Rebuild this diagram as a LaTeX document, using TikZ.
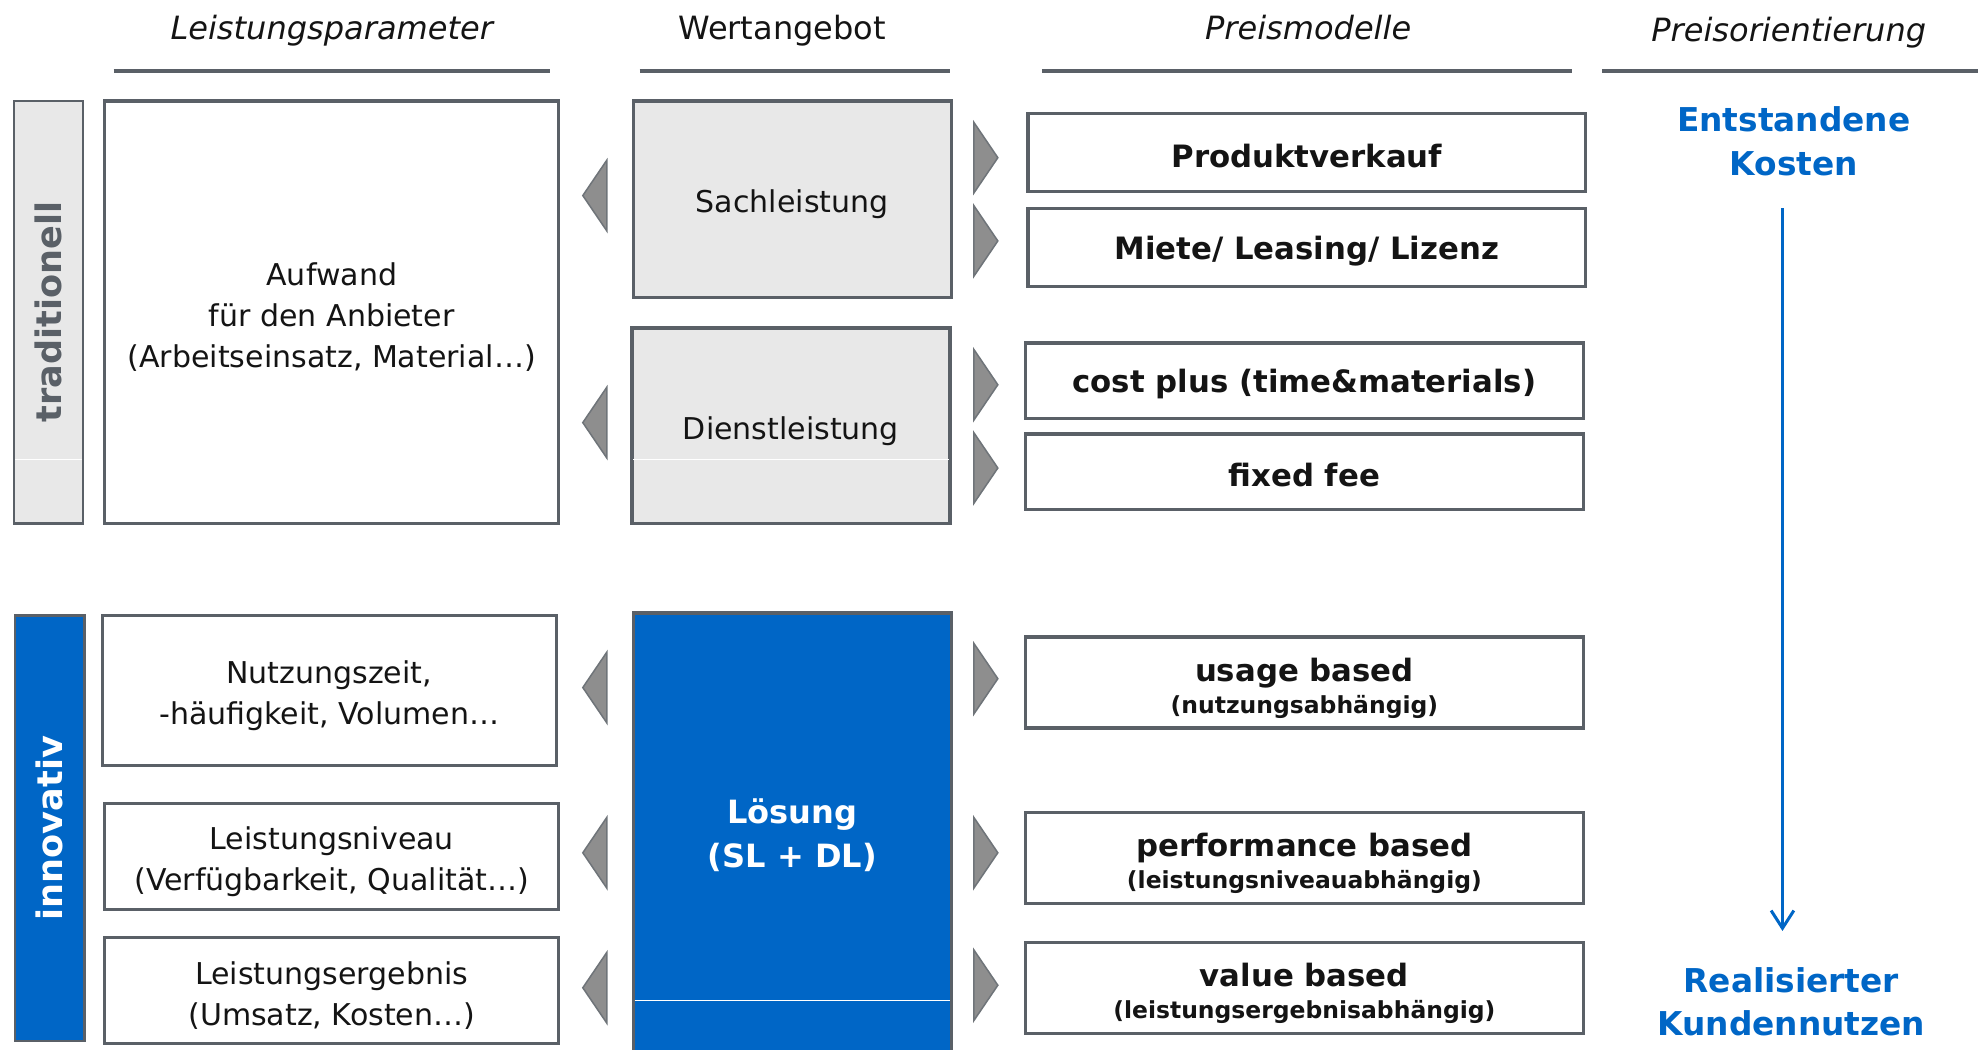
\documentclass[tikz,border=0pt]{standalone}
\usepackage{fontspec}
\setmainfont{DejaVu Sans}
\usetikzlibrary{arrows.meta}

\definecolor{frame}{HTML}{5A6067}
\definecolor{paleFill}{HTML}{E8E8E8}
\definecolor{corpBlue}{HTML}{0066C6}
\definecolor{wedgeFill}{HTML}{8E8E8E}
\definecolor{wedgeEdge}{HTML}{6F7479}
\definecolor{inkText}{HTML}{141414}

% invisible struts that raise a first line's height, so the text sits a little lower
\newcommand\liftA{\rule{0pt}{13pt}}
\newcommand\liftB{\rule{0pt}{13.8pt}}
\newcommand\liftC{\rule{0pt}{11.2pt}}

\begin{document}
\begin{tikzpicture}[x=0.5pt,y=-0.5pt,
  box/.style={draw=frame, line width=1.3pt, fill=white, inner sep=0pt,
    align=center, text=inkText, font=\fontsize{11.9}{16.25}\selectfont},
  greybox/.style={box, fill=paleFill},
  pricebox/.style={box, font=\bfseries\fontsize{12.2}{14}\selectfont},
  sidebar/.style={draw=frame, line width=0.9pt, inner sep=0pt,
    minimum width=27.5pt},
  sidelabel/.style={rotate=90, font=\bfseries\fontsize{13.9}{16}\selectfont},
  colhead/.style={anchor=base, text=inkText, font=\fontsize{12.7}{15}\selectfont},
  headrule/.style={draw=frame, line width=1.6pt},
  wedge/.style={fill=wedgeFill, draw=wedgeEdge, line width=0.6pt, line join=miter},
  bluelabel/.style={text=corpBlue, align=center,
    font=\bfseries\fontsize{13}{17.25}\selectfont},
  seam/.style={draw=white, line width=0.5pt}
]
\useasboundingbox (0,0) rectangle (1568,832);

% column headings and their rules
\node[colhead] (hLeist) at (263,31.5) {\itshape Leistungsparameter};
\node[colhead] (hWert)  at (620,31.5) {Wertangebot};
\node[colhead] (hPreis) at (1037,31.5) {\itshape Preismodelle};
\node[colhead] (hOrient) at (1418,33) {\itshape Preisorientierung};
\draw[headrule] (90,56) -- (436,56);
\draw[headrule] (507,56) -- (753,56);
\draw[headrule] (826,56) -- (1246,56);
\draw[headrule] (1270,56) -- (1568,56);

% side bars
\node[sidebar, fill=paleFill, minimum height=167.5pt] (barTrad) at (38.5,247.5) {};
\draw[seam] (12,364) -- (65,364);
\node[sidelabel, text=frame] (lblTrad) at (barTrad.center) {traditionell};
\node[sidebar, fill=corpBlue, minimum height=168.5pt] (barInno) at (39.5,656.5) {};
\node[sidelabel, text=white] (lblInno) at (barInno.center) {innovativ};

% performance parameters
\node[box, minimum width=180pt, minimum height=167.5pt] (aufwand) at (263,247.5)
  {\liftA Aufwand\\für den Anbieter\\(Arbeitseinsatz, Material…)};
\node[box, minimum width=180pt, minimum height=59.5pt] (nutzung) at (261,547.5)
  {\liftA Nutzungszeit,\\-häufigkeit, Volumen…};
\node[box, minimum width=180pt, minimum height=42pt] (niveau) at (263,679)
  {\liftA Leistungsniveau\\(Verfügbarkeit, Qualität…)};
\node[box, minimum width=180pt, minimum height=42pt] (ergebnis) at (263,785)
  {\liftA Leistungsergebnis\\(Umsatz, Kosten…)};

% value offers
\node[greybox, minimum width=126pt, minimum height=78pt] (sach) at (628,158) {\liftA Sachleistung};
\node[greybox, minimum width=126pt, minimum height=77.5pt] (dienst) at (627,337.5) {\liftA Dienstleistung};
\draw[seam] (502,364.5) -- (752,364.5);
\node[box, fill=corpBlue, minimum width=126pt, minimum height=175pt, text=white,
  font=\bfseries\fontsize{12.7}{17.5}\selectfont] (loesung) at (628,661) {\liftC Lösung\\(SL + DL)};
\draw[seam] (503,793) -- (753,793);

% pricing models
\node[pricebox, minimum width=221pt, minimum height=31pt] (produkt) at (1036,121) {\rule{0pt}{12pt}Produktverkauf};
\node[pricebox, minimum width=221pt, minimum height=31pt] (miete) at (1036,196) {\rule{0pt}{12pt}Miete/ Leasing/ Lizenz};
\node[pricebox, minimum width=221pt, minimum height=30pt] (cost) at (1034,302) {\rule{0pt}{12pt}cost plus (time\&materials)};
\node[pricebox, minimum width=221pt, minimum height=30pt] (fixed) at (1034,374) {\rule{0pt}{12pt}fixed fee};
\node[pricebox, minimum width=221pt, minimum height=36pt] (usage) at (1034,541)
  {\liftB usage based\\[-1.5pt]{\fontsize{9.3}{11}\selectfont(nutzungsabhängig)}};
\node[pricebox, minimum width=221pt, minimum height=36pt] (perf) at (1034,680)
  {\liftB performance based\\[-1.5pt]{\fontsize{9.3}{11}\selectfont(leistungsniveauabhängig)}};
\node[pricebox, minimum width=221pt, minimum height=36pt] (valueb) at (1034,783)
  {\liftB value based\\[-1.5pt]{\fontsize{9.3}{11}\selectfont(leistungsergebnisabhängig)}};

% wedges pointing to the parameters
\foreach \yy in {155,335,545,676,783}
  \draw[wedge] (481,\yy-28) -- (462,\yy) -- (481,\yy+28) -- cycle;
% wedges pointing to the pricing models
\foreach \yy in {125,191,305,371,538,676,781}
  \draw[wedge] (772,\yy-28) -- (791,\yy) -- (772,\yy+28) -- cycle;

% price orientation scale
\node[bluelabel] (kosten) at (1422,112) {Entstandene\\Kosten};
\node[bluelabel] (nutzen) at (1420,794) {Realisierter\\Kundennutzen};
\coordinate (scaleTop) at (1413,165);
\coordinate (scaleEnd) at (1413,738);
\draw[corpBlue, line width=1.2pt, -{Straight Barb[length=7pt,width=9pt]}] (scaleTop) -- (scaleEnd);
\end{tikzpicture}
\end{document}
